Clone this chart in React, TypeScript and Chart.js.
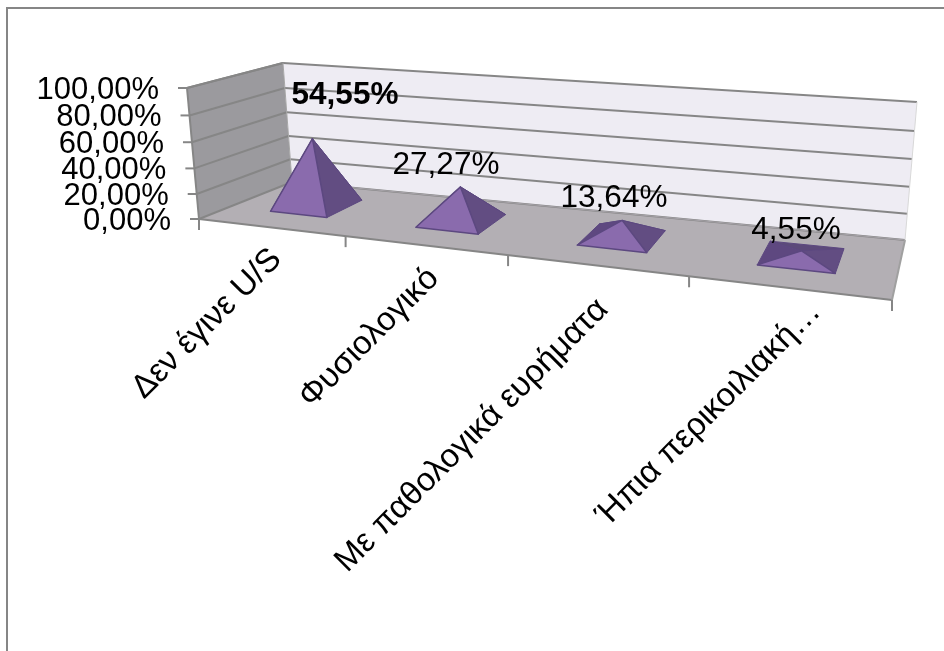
import { useEffect, useRef } from "react";
import { Chart, registerables } from "chart.js";

Chart.register(...registerables);

const categories = ["Δεν έγινε U/S", "Φυσιολογικό", "Με παθολογικά ευρήματα", "Ήπια περικοιλιακή…"];
const percentages = [54.55, 27.27, 13.64, 4.55];
const valueLabels = ["54,55%", "27,27%", "13,64%", "4,55%"];
const boldLabels = [true, false, false, false];
const labelAnchors = [[345, 95], [446, 165], [614, 198], [796, 230]];
const categoryNudges = [[6, 27], [9, 28], [7, 39], [28, 19]];

const FONT = '"Liberation Sans", Arial, sans-serif';
const AXIS_GREY = "#868686";

// Corners of the box in page space: floor (front-left, front-right, back-right, back-left)
const FL = [199, 219], FR = [892, 300], BR = [905, 240], BL = [292, 182];
// Upper corners of the two walls
const TFL = [187, 88], TBL = [283, 63], TBR = [917, 102];
const TFR = [906, 147];

const lerp = (a: number, b: number, t: number) => a + (b - a) * t;
const lerp2 = (p: number[], q: number[], t: number) => [lerp(p[0], q[0], t), lerp(p[1], q[1], t)];
// Foreshortening along the width of the box and up the walls
const warp = (t: number, a: number) => (a * t) / (1 + (a - 1) * t);

function project(u: number, d: number, h: number) {
  const uu = warp(u, 0.805);
  const hh = warp(h, 0.944);
  const front = lerp2(FL, FR, uu);
  const back = lerp2(BL, BR, uu);
  const base = lerp2(front, back, d);
  const frontTop = lerp2(TFL, TFR, uu);
  const backTop = lerp2(TBL, TBR, uu);
  const top = lerp2(frontTop, backTop, d);
  return [lerp(base[0], top[0], hh), lerp(base[1], top[1], hh)];
}

function poly(ctx: CanvasRenderingContext2D, pts: number[][], fill: string | CanvasGradient, stroke?: string, lw = 1) {
  ctx.beginPath();
  pts.forEach((p, i) => (i ? ctx.lineTo(p[0], p[1]) : ctx.moveTo(p[0], p[1])));
  ctx.closePath();
  ctx.fillStyle = fill;
  ctx.fill();
  if (stroke) {
    ctx.strokeStyle = stroke;
    ctx.lineWidth = lw;
    ctx.lineJoin = "round";
    ctx.stroke();
  }
}

function line(ctx: CanvasRenderingContext2D, a: number[], b: number[], color = AXIS_GREY, lw = 2) {
  ctx.beginPath();
  ctx.moveTo(a[0], a[1]);
  ctx.lineTo(b[0], b[1]);
  ctx.strokeStyle = color;
  ctx.lineWidth = lw;
  ctx.stroke();
}

const pyramidBox = {
  id: "pyramidBox",
  afterDatasetsDraw(chart: Chart) {
    const { ctx, chartArea: area, scales } = chart;
    const x = scales.x;
    const y = scales.y;
    const fracX = (px: number) => (px - area.left) / area.width;
    const fracY = (px: number) => (area.bottom - px) / area.height;
    ctx.save();

    // Walls and floor
    poly(ctx, [FL, TFL, TBL, project(0, 1, 0)], "#9b9a9e");
    poly(ctx, [project(0, 1, 0), TBL, TBR, BR], "#eeecf3");
    poly(ctx, [FL, BL, BR, FR], "#b3afb4");

    // Gridlines and value axis
    ctx.font = `31px ${FONT}`;
    ctx.textAlign = "right";
    ctx.textBaseline = "middle";
    y.ticks.forEach((tick) => {
      const h = fracY(y.getPixelForValue(tick.value));
      const a = project(0, 0, h), b = project(0, 1, h), c = project(1, 1, h);
      line(ctx, b, c);
      line(ctx, a, b);
      line(ctx, [a[0] - 9, a[1]], a);
      ctx.fillStyle = "#000";
      ctx.fillText(String(tick.label), a[0] - 28, a[1] + 2);
    });

    // Outer box edges
    line(ctx, TFL, TBL);
    line(ctx, project(0, 1, 0), TBL, "#a6a6a6", 1);
    line(ctx, FL, TFL);
    line(ctx, FL, FR);
    line(ctx, FR, BR, "#a0a0a0", 2);
    line(ctx, BR, TBR, "#d8d8d8", 1);
    line(ctx, BL, BR, "#a8a4aa", 1);

    // Category ticks along the front edge of the floor
    for (let i = 0; i <= categories.length; i++) {
      const p = project(i / categories.length, 0, 0);
      line(ctx, p, [p[0], p[1] + 11]);
    }

    // Pyramids, read from the bar elements the chart has laid out
    const meta = chart.getDatasetMeta(0);
    meta.data.forEach((el: any) => {
      const u = fracX(el.x);
      const half = el.width / area.width / 2;
      const h = fracY(el.y);
      const d0 = 0.33, d1 = 0.76;
      const fl = project(u - half, d0, 0), fr = project(u + half, d0, 0);
      const br = project(u + half, d1, 0), bl = project(u - half, d1, 0);
      const apex = project(u, (d0 + d1) / 2, h);
      const edge = "#5c4880";
      // Faces back to front; low pyramids let the rear faces show
      poly(ctx, [bl, br, apex], "#5c4a7a", edge);
      poly(ctx, [fl, bl, apex], "#5e4880", edge);
      poly(ctx, [fr, br, apex], "#624d82", edge);
      poly(ctx, [fl, fr, apex], "#8a6bad", edge, 1.5);
    });

    // Value labels
    ctx.textAlign = "center";
    ctx.textBaseline = "middle";
    valueLabels.forEach((text, i) => {
      ctx.font = `${boldLabels[i] ? "bold " : ""}31.5px ${FONT}`;
      ctx.fillStyle = "#000";
      ctx.fillText(text, labelAnchors[i][0], labelAnchors[i][1]);
    });

    // Category labels, slanted and ending under the middle of each group
    ctx.font = `33px ${FONT}`;
    ctx.textAlign = "right";
    ctx.textBaseline = "middle";
    meta.data.forEach((el: any, i: number) => {
      const p = project(fracX(el.x), 0, 0);
      ctx.save();
      ctx.translate(p[0] + categoryNudges[i][0], p[1] + categoryNudges[i][1]);
      ctx.rotate(-Math.PI / 4);
      ctx.fillStyle = "#000";
      ctx.fillText(String(x.getLabelForValue(i)), 0, 0);
      ctx.restore();
    });
    ctx.restore();
  },
};

export default function App() {
  const ref = useRef<HTMLCanvasElement>(null);
  useEffect(() => {
    document.body.style.margin = "0";
    const chart = new Chart(ref.current!, {
      type: "bar",
      data: {
        labels: categories,
        datasets: [{ data: percentages, backgroundColor: "transparent", barPercentage: 0.4, categoryPercentage: 1 }],
      },
      options: {
        animation: false,
        responsive: false,
        layout: { padding: { left: 100, right: 100, top: 100, bottom: 100 } },
        plugins: { legend: { display: false }, tooltip: { enabled: false } },
        scales: {
          x: { display: false },
          y: {
            display: false,
            min: 0,
            max: 100,
            ticks: { stepSize: 20, callback: (v: any) => `${Number(v).toFixed(2).replace(".", ",")}%` },
          },
        },
      },
      plugins: [pyramidBox],
    });
    return () => chart.destroy();
  }, []);
  return (
    <div style={{ position: "relative", width: 944, height: 651, background: "#fff", overflow: "hidden" }}>
      <div style={{ position: "absolute", left: 6, top: 7, width: 960, height: 670, border: "2px solid #868686" }} />
      <canvas ref={ref} width={944} height={651} style={{ position: "absolute", left: 0, top: 0, display: "block" }} />
    </div>
  );
}
